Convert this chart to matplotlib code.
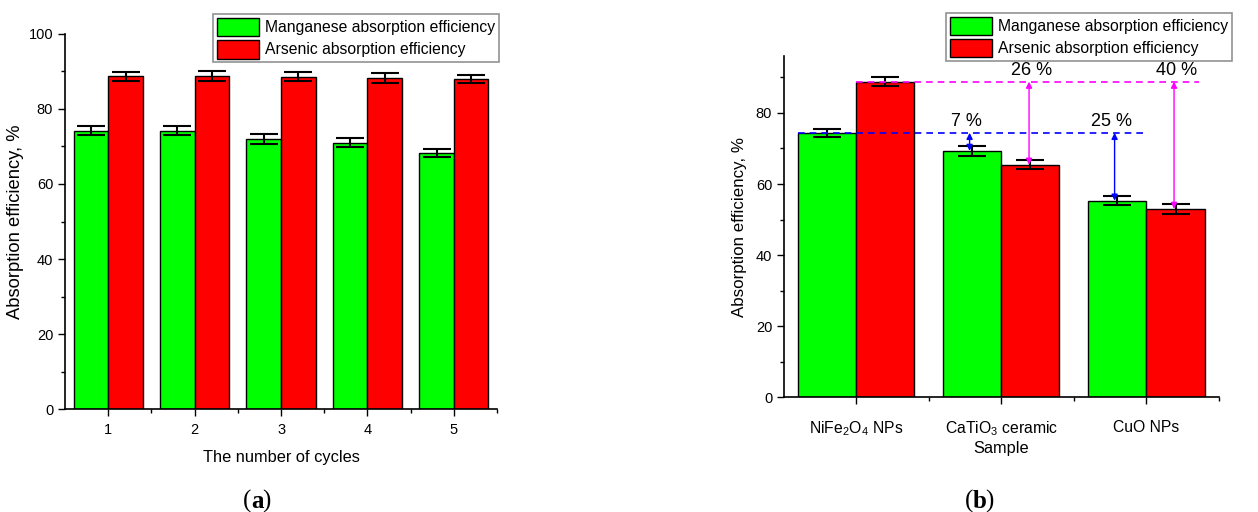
import numpy as np
import matplotlib
matplotlib.use("Agg")
import matplotlib.pyplot as plt
from matplotlib.ticker import MultipleLocator

plt.rcParams['font.family'] = ['Liberation Sans', 'DejaVu Sans']
plt.rcParams['mathtext.fontset'] = 'custom'
plt.rcParams['mathtext.rm'] = 'Liberation Sans'
plt.rcParams['mathtext.it'] = 'Liberation Sans'

# panel (a): reuse cycles
cycles = ['1', '2', '3', '4', '5']
mn_cycles = [74.2, 74.2, 72.0, 71.0, 68.3]
mn_cycles_err = [1.2, 1.2, 1.3, 1.2, 1.0]
as_cycles = [88.7, 88.7, 88.5, 88.2, 88.0]
as_cycles_err = [1.2, 1.4, 1.2, 1.3, 1.1]

# panel (b): comparison of samples
samples = ['NiFe$_2$O$_4$ NPs', 'CaTiO$_3$ ceramic', 'CuO NPs']
mn_samples = [74.4, 69.3, 55.3]
mn_samples_err = [1.2, 1.4, 1.2]
as_samples = [88.8, 65.4, 53.0]
as_samples_err = [1.3, 1.3, 1.3]
drop_labels_mn = ['7 %', '25 %']
drop_labels_as = ['26 %', '40 %']

green = '#00ff00'
red = '#ff0000'
w = 0.4

fig = plt.figure(figsize=(12.58, 5.12), dpi=100)
ax1 = fig.add_axes([0.0517, 0.2006, 0.3434, 0.7334])
ax2 = fig.add_axes([0.6232, 0.224, 0.3458, 0.6666])

err_kw = dict(ecolor='black', elinewidth=1.5, capsize=10, capthick=1.5)


def style_axis(ax):
    for s in ['top', 'right']:
        ax.spines[s].set_visible(False)
    ax.spines['left'].set_linewidth(1.2)
    ax.spines['bottom'].set_linewidth(1.2)
    ax.tick_params(axis='both', which='major', direction='out', length=5, width=1, labelsize=10.5)
    ax.tick_params(axis='both', which='minor', direction='out', length=3, width=1)
    ax.yaxis.set_minor_locator(MultipleLocator(10))


def add_legend(ax, anchor, size):
    leg = ax.legend(loc='upper left', bbox_to_anchor=anchor, fontsize=size,
                    frameon=True, fancybox=False, edgecolor='#777777', handlelength=2.7,
                    handleheight=1.45, handletextpad=0.35, borderpad=0.25, labelspacing=0.22,
                    borderaxespad=0)
    leg.get_frame().set_linewidth(1.2)
    return leg


# (a)
x = np.arange(1, len(cycles) + 1)
ax1.bar(x - w / 2, mn_cycles, w, yerr=mn_cycles_err, color=green, edgecolor='black',
        linewidth=1, error_kw=err_kw, label='Manganese absorption efficiency')
ax1.bar(x + w / 2, as_cycles, w, yerr=as_cycles_err, color=red, edgecolor='black',
        linewidth=1, error_kw=err_kw, label='Arsenic absorption efficiency')
ax1.set_xlim(0.5, 5.5)
ax1.set_ylim(0, 100)
ax1.set_xticks(x)
ax1.set_xticklabels(cycles)
ax1.set_yticks([0, 20, 40, 60, 80, 100])
ax1.set_xticks(x + 0.5, minor=True)
style_axis(ax1)
ax1.tick_params(axis='x', which='major', pad=5)
ax1.set_xlabel('The number of cycles', fontsize=11.8, labelpad=9)
ax1.set_ylabel('Absorption efficiency, %', fontsize=13.2, labelpad=3)
add_legend(ax1, (0.3426, 1.053), 11.3)

# (b)
xs = np.arange(len(samples))
ax2.bar(xs - w / 2, mn_samples, w, yerr=mn_samples_err, color=green, edgecolor='black',
        linewidth=1, error_kw=err_kw, label='Manganese absorption efficiency')
ax2.bar(xs + w / 2, as_samples, w, yerr=as_samples_err, color=red, edgecolor='black',
        linewidth=1, error_kw=err_kw, label='Arsenic absorption efficiency')
ax2.set_xlim(-0.5, 2.5)
ax2.set_ylim(0, 96)
ax2.set_xticks(xs)
ax2.set_xticklabels(samples)
ax2.set_xticks(xs + 0.5, minor=True)
ax2.set_yticks([0, 20, 40, 60, 80])
style_axis(ax2)
ax2.tick_params(axis='x', which='major', pad=11, labelsize=11.3)
ax2.set_xlabel('Sample', fontsize=11.8, labelpad=2)
ax2.set_ylabel('Absorption efficiency, %', fontsize=12.2, labelpad=6)

# reference lines and drop arrows
ax2.plot([-0.4, 1.99], [mn_samples[0]] * 2, color='blue', ls='--', lw=1.2, dashes=(4, 3))
ax2.plot([0.0, 2.36], [as_samples[0]] * 2, color='magenta', ls='--', lw=1.2, dashes=(4, 3))
mn_arrow_x = [0.78, 1.78]
as_arrow_x = [1.19, 2.19]
for i, (xa, lab) in enumerate(zip(mn_arrow_x, drop_labels_mn)):
    ax2.annotate('', xy=(xa, mn_samples[i + 1]), xytext=(xa, mn_samples[0]),
                 arrowprops=dict(arrowstyle='<|-|>', color='blue', lw=1,
                                 mutation_scale=9, shrinkA=0, shrinkB=0))
    ax2.text(xa - 0.02, 77.5, lab, ha='center', va='center', fontsize=13)
for i, (xa, lab) in enumerate(zip(as_arrow_x, drop_labels_as)):
    ax2.annotate('', xy=(xa, as_samples[i + 1]), xytext=(xa, as_samples[0]),
                 arrowprops=dict(arrowstyle='<|-|>', color='magenta', lw=1,
                                 mutation_scale=9, shrinkA=0, shrinkB=0))
    ax2.text(xa + 0.02, 92.0, lab, ha='center', va='center', fontsize=13)

add_legend(ax2, (0.372, 1.127), 11.3)

# panel captions
cap_y = 0.008
fig.text(0.1995, cap_y, '(', ha='right', va='baseline', fontsize=18, family='Liberation Serif')
fig.text(0.1995, cap_y, 'a', ha='left', va='baseline', fontsize=18, family='Liberation Serif',
         fontweight='bold')
fig.text(0.1995 + 0.0089, cap_y, ')', ha='left', va='baseline', fontsize=18, family='Liberation Serif')
fig.text(0.7735, cap_y, '(', ha='right', va='baseline', fontsize=18, family='Liberation Serif')
fig.text(0.7735, cap_y, 'b', ha='left', va='baseline', fontsize=18, family='Liberation Serif',
         fontweight='bold')
fig.text(0.7735 + 0.0097, cap_y, ')', ha='left', va='baseline', fontsize=18, family='Liberation Serif')

fig.savefig('out.png', dpi=100)
